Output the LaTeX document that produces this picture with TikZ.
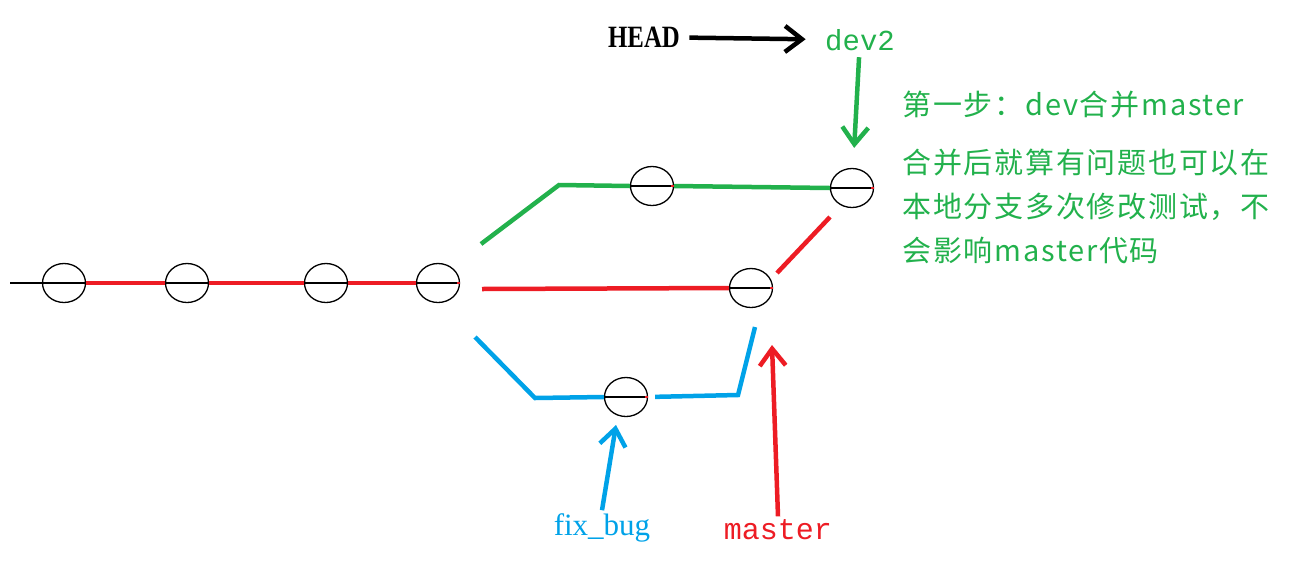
\documentclass[tikz,border=0pt]{standalone}
\usepackage{fontspec}
\setmainfont{Liberation Serif}
\setmonofont{Liberation Mono}
\newfontfamily\cjk[LetterSpace=6]{Noto Sans CJK SC}
\newfontfamily\headfont[FakeStretch=0.8]{Liberation Serif}
\usetikzlibrary{arrows.meta,calc,shapes.geometric}
\definecolor{paintred}{RGB}{237,28,36}
\definecolor{paintgreen}{RGB}{34,177,76}
\definecolor{paintblue}{RGB}{0,162,232}
\tikzset{
  commit/.style = {draw, ellipse, line width=1.3pt, minimum width=43pt, minimum height=39pt,
                   inner sep=0pt},
  lead/.style   = {line width=1.3pt},
  branch/.style = {line width=4.5pt},
  ptr/.style    = {-{Straight Barb[length=17pt,width=26pt]}, line width=4.5pt},
}

\begin{document}
\begin{tikzpicture}[x=1pt,y=-1pt]
  \useasboundingbox (0,0) rectangle (1299,574);
  % commits
  \node[commit] (c1) at (64,283) {};
  \node[commit] (c2) at (187,283) {};
  \node[commit] (c3) at (326,283) {};
  \node[commit] (c4) at (438,283) {};
  \node[commit] (d1) at (652,186) {};
  \node[commit] (d2) at (852,188) {};
  \node[commit] (m1) at (751,288) {};
  \node[commit] (f1) at (626,397) {};
  \foreach \n in {c1,c2,c3,c4,d1,d2,m1,f1} \draw[lead] (\n.west) -- (\n.east);
  \foreach \n in {c4,d1,d2,m1,f1} \draw[paintred, line width=2pt] ($(\n.east)+(-3,0)$) -- (\n.east);
  % main line
  \coordinate (start) at (10,283);
  \draw[lead] (start) -- (c1.west);
  \draw[paintred, line width=4pt] (c1.east) -- (c2.west) (c2.east) -- (c3.west) (c3.east) -- (c4.west);
  % dev2
  \coordinate (g0) at (481,244);
  \coordinate (g1) at (559,185);
  \draw[branch, paintgreen] (g0) -- (g1) -- (d1.west);
  \draw[branch, paintgreen] (d1.east) -- (d2.west);
  % master
  \coordinate (r0) at (482,289);
  \coordinate (r1) at (777,273);
  \coordinate (r2) at (830,217);
  \draw[branch, paintred] (r0) -- (m1.west);
  \draw[branch, paintred] (r1) -- (r2);
  % fix_bug
  \coordinate (b0) at (475,337);
  \coordinate (b1) at (535,398);
  \coordinate (b2) at (738,395);
  \coordinate (b3) at (755,327);
  \draw[branch, paintblue] (b0) -- (b1) -- (f1.west);
  \draw[branch, paintblue, shorten <=7pt] (f1.east) -- (b2) -- (b3);
  % labels
  \node[font=\headfont\bfseries\fontsize{31}{34}\selectfont] (head) at (644,37) {HEAD};
  \node[text=paintgreen, font=\ttfamily\fontsize{29}{32}\selectfont] (dev) at (860,40) {dev2};
  \node[text=paintred, font=\ttfamily\fontsize{30}{32}\selectfont] (master) at (778,530) {master};
  \node[text=paintblue, font=\fontsize{31}{34}\selectfont] (fixbug) at (602,528) {fix\_bug};
  \coordinate (mtip) at (772,345);
  \coordinate (ftip) at (616,425);
  \draw[ptr, shorten <=6pt, shorten >=16pt] (head) -- (dev);
  \draw[ptr, paintgreen, shorten <=3pt, shorten >=20pt] (dev) -- (d2);
  \draw[ptr, paintred] (master.north) -- (mtip);
  \draw[ptr, paintblue] (fixbug.north) -- (ftip);
  % note
  \node[anchor=west, text=paintgreen, font=\cjk\fontsize{29}{32}\selectfont] (title) at (899,105)
    {第一步：dev合并master};
  \node[anchor=west, align=left, text=paintgreen, font=\cjk\fontsize{29}{44}\selectfont] (note) at (899,206)
    {合并后就算有问题也可以在\\本地分支多次修改测试，不\\会影响master代码};
\end{tikzpicture}
\end{document}
